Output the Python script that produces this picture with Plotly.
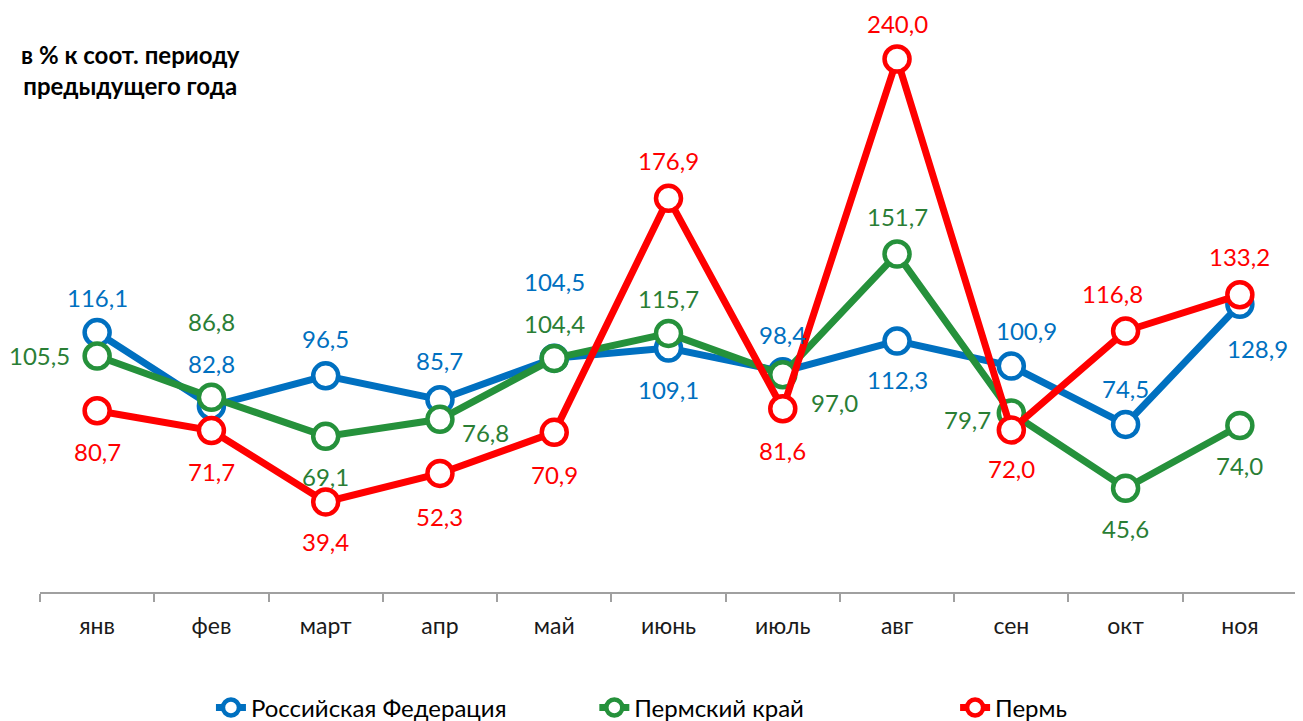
import plotly.graph_objects as go

months = ["янв", "фев", "март", "апр", "май", "июнь", "июль", "авг", "сен", "окт", "ноя"]
series_names = ["Российская Федерация", "Пермский край", "Пермь"]
rf = [116.1, 82.8, 96.5, 85.7, 104.5, 109.1, 98.4, 112.3, 100.9, 74.5, 128.9]
krai = [105.5, 86.8, 69.1, 76.8, 104.4, 115.7, 97.0, 151.7, 79.7, 45.6, 74.0]
perm = [80.7, 71.7, 39.4, 52.3, 70.9, 176.9, 81.6, 240.0, 72.0, 116.8, 133.2]

# styles
line_colors = ["#0070C0", "#25913B", "#FF0000"]
label_colors = ["#0070C0", "#2A7E35", "#FF0000"]
# label offsets in px (dx, dy with dy positive = down)
offsets = [
    [(0, -35), (0, -43), (0, -37), (0, -39), (0, -77), (0, 41), (0, -37), (0, 39), (15, -36), (0, -36), (18, 44)],
    [(-58, 0), (0, -76), (0, 40), (46, 13), (0, -35), (0, -35), (52, 28), (0, -37), (-44, 7), (0, 40), (0, 40)],
    [(0, 41), (0, 41), (0, 40), (0, 43), (0, 42), (0, -38), (0, 42), (0, -35), (0, 39), (-13, -38), (0, -38)],
]

FONT = "Lato, 'Open Sans', sans-serif"
fig = go.Figure()
all_series = [rf, krai, perm]
annotations = []
legend_x = [0.136, 0.441, 0.728]
legend_keys = ["legend", "legend2", "legend3"]
for k, (name, vals) in enumerate(zip(series_names, all_series)):
    fig.add_trace(go.Scatter(
        x=months, y=vals, name=name, mode="lines+markers",
        line=dict(color=line_colors[k], width=7),
        marker=dict(size=25, color="white", line=dict(color=line_colors[k], width=4.5)),
        cliponaxis=False, legend=legend_keys[k], hoverinfo="skip",
    ))
    for i, v in enumerate(vals):
        dx, dy = offsets[k][i]
        annotations.append(dict(
            x=months[i], y=v, xref="x", yref="y", showarrow=False,
            xanchor="center", yanchor="middle",
            text=f"{v:.1f}".replace(".", ","), xshift=dx, yshift=-dy,
            font=dict(family=FONT, size=24, color=label_colors[k]),
        ))

annotations.append(dict(
    x=0.0716, y=0.946, xref="paper", yref="paper", showarrow=False,
    xanchor="center", yanchor="middle",
    text="<b>в % к соот. периоду<br>предыдущего года</b>", align="center",
    font=dict(family=FONT, size=24, color="#000000"),
))

layout_legends = {}
for k, key in enumerate(legend_keys):
    layout_legends[key] = dict(
        x=legend_x[k], y=-0.21, xanchor="left", yanchor="middle",
        orientation="h", font=dict(family=FONT, size=24, color="#000000"),
        bgcolor="rgba(0,0,0,0)", itemwidth=30,
    )

fig.update_layout(
    width=1295, height=713,
    margin=dict(l=32, r=6, t=32, b=129, autoexpand=False),
    paper_bgcolor="white", plot_bgcolor="white",
    showlegend=True,
    annotations=annotations,
    xaxis=dict(
        type="category", range=[-0.5, 10.5], tickson="boundaries",
        showline=True, linecolor="#A0A0A0", linewidth=1.5,
        ticks="outside", ticklen=8, tickcolor="#A0A0A0", tickwidth=1.5,
        showgrid=False, zeroline=False, automargin=False,
        tickfont=dict(family=FONT, size=23, color="#1a1a1a"),
        ticklabelstandoff=13, fixedrange=True,
    ),
    yaxis=dict(range=[-1.4, 248.6], visible=False, fixedrange=True),
    **layout_legends,
)

fig.write_html("out.html")
